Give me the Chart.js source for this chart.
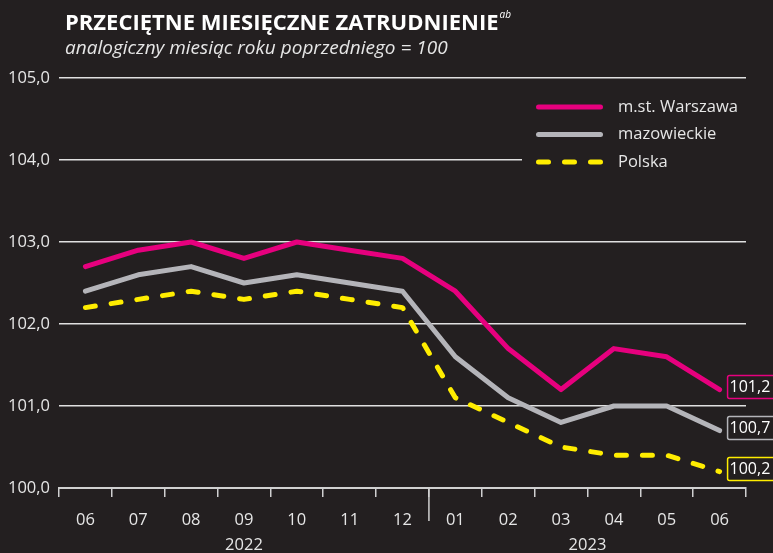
<!DOCTYPE html>
<html>
<head>
<meta charset="utf-8">
<script src="https://cdn.jsdelivr.net/npm/chart.js@4"></script>
<style>
  html, body { margin: 0; padding: 0; background: #231f20; }
  #wrap { position: relative; width: 773px; height: 553px; }
</style>
</head>
<body>
<div id="wrap"><canvas id="c" width="773" height="553"></canvas></div>
<script>
// Przeciętne miesięczne zatrudnienie, analogiczny miesiąc roku poprzedniego = 100
const months = ['06', '07', '08', '09', '10', '11', '12', '01', '02', '03', '04', '05', '06'];
const years = [{ label: '2022', from: 0, to: 6 }, { label: '2023', from: 7, to: 12 }];
const warszawa = [102.7, 102.9, 103.0, 102.8, 103.0, 102.9, 102.8, 102.4, 101.7, 101.2, 101.7, 101.6, 101.2];
const mazowieckie = [102.4, 102.6, 102.7, 102.5, 102.6, 102.5, 102.4, 101.6, 101.1, 100.8, 101.0, 101.0, 100.7];
const polska = [102.2, 102.3, 102.4, 102.3, 102.4, 102.3, 102.2, 101.1, 100.8, 100.5, 100.4, 100.4, 100.2];
const yTicks = [100, 101, 102, 103, 104, 105];

const BG = '#231f20';
const TXT = '#e6e6e6';
const FONT = '"Open Sans", "Noto Sans", sans-serif';
const C = { waw: '#e6007e', maz: '#b4b4b9', pl: '#ffed00' };

const fmt = (v) => v.toFixed(1).replace('.', ',');

const bgPlugin = {
    id: 'bg',
    beforeDraw(chart) {
        const ctx = chart.ctx;
        ctx.save();
        ctx.fillStyle = BG;
        ctx.fillRect(0, 0, chart.width, chart.height);
        ctx.restore();
    },
};

const decorPlugin = {
    id: 'decor',
    afterDraw(chart) {
        const ctx = chart.ctx;
        const x = chart.scales.x;
        const area = chart.chartArea;
        ctx.save();

        // tytuł
        ctx.fillStyle = '#ffffff';
        ctx.textBaseline = 'alphabetic';
        ctx.textAlign = 'left';
        ctx.font = `bold 22px ${FONT}`;
        const title = 'PRZECIĘTNE MIESIĘCZNE ZATRUDNIENIE';
        ctx.fillText(title, 65, 30);
        const tw = ctx.measureText(title).width;
        ctx.font = `italic 10px ${FONT}`;
        ctx.fillText('ab', 65 + tw + 1, 18);
        ctx.font = `italic 19px ${FONT}`;
        ctx.fillStyle = TXT;
        ctx.fillText('analogiczny miesiąc roku poprzedniego = 100', 65, 54);

        // separator lat + etykiety lat
        const step = (x.right - x.left) / months.length;
        const sepX = x.left + step * 7;
        ctx.strokeStyle = '#d0d0d0';
        ctx.lineWidth = 1.5;
        ctx.beginPath();
        ctx.moveTo(sepX, area.bottom);
        ctx.lineTo(sepX, area.bottom + 33);
        ctx.stroke();
        ctx.fillStyle = TXT;
        ctx.font = `16.5px ${FONT}`;
        ctx.textAlign = 'center';
        ctx.textBaseline = 'middle';
        years.forEach((y) => {
            const cx = (x.left + step * y.from + x.left + step * (y.to + 1)) / 2;
            ctx.fillText(y.label, cx, 545);
        });

        // legenda (zasłania linię siatki)
        ctx.fillStyle = BG;
        ctx.fillRect(522, 84, area.right - 522 + 2, 96);
        const items = [
            { label: 'm.st. Warszawa', color: C.waw, dash: [] },
            { label: 'mazowieckie', color: C.maz, dash: [] },
            { label: 'Polska', color: C.pl, dash: [10, 16] },
        ];
        items.forEach((it, i) => {
            const ly = 107 + i * 27.5;
            ctx.strokeStyle = it.color;
            ctx.lineWidth = 5;
            ctx.lineCap = 'round';
            ctx.setLineDash(it.dash);
            ctx.beginPath();
            ctx.moveTo(538.5, ly);
            ctx.lineTo(600.5, ly);
            ctx.stroke();
            ctx.setLineDash([]);
            ctx.fillStyle = TXT;
            ctx.textAlign = 'left';
            ctx.font = `16.5px ${FONT}`;
            ctx.fillText(it.label, 618, ly);
        });

        // etykiety końcowe
        chart.data.datasets.forEach((ds, i) => {
            const meta = chart.getDatasetMeta(i);
            const pt = meta.data[meta.data.length - 1];
            const v = ds.data[ds.data.length - 1];
            const bx = pt.x + 8, by = pt.y - 14;
            ctx.strokeStyle = ds.borderColor;
            ctx.lineWidth = 1.5;
            ctx.fillStyle = BG;
            ctx.beginPath();
            ctx.roundRect(bx, by, 60, 23, 2);
            ctx.fill();
            ctx.stroke();
            ctx.fillStyle = '#ffffff';
            ctx.textAlign = 'left';
            ctx.textBaseline = 'middle';
            ctx.font = `16px ${FONT}`;
            ctx.fillText(fmt(v), bx + 2, by + 12);
        });
        ctx.restore();
    },
};

const line = (label, data, color, dash) => ({
    label, data,
    borderColor: color,
    backgroundColor: color,
    borderWidth: 5,
    borderDash: dash,
    borderCapStyle: 'round',
    borderJoinStyle: 'round',
    pointRadius: 0,
    tension: 0,
    fill: false,
});

new Chart(document.getElementById('c'), {
    type: 'line',
    data: {
        labels: months,
        datasets: [
            line('m.st. Warszawa', warszawa, C.waw, []),
            line('mazowieckie', mazowieckie, C.maz, []),
            line('Polska', polska, C.pl, [10, 16]),
        ],
    },
    options: {
        responsive: false,
        animation: false,
        layout: { padding: { top: 78, right: 27, left: 0, bottom: 0 } },
        plugins: { legend: { display: false }, tooltip: { enabled: false } },
        scales: {
            x: {
                offset: true,
                afterFit: (s) => { s.height = 65; },
                grid: { offset: true, drawOnChartArea: false, color: '#d0d0d0', lineWidth: 1.5, tickLength: 9 },
                border: { display: true, color: '#d0d0d0', width: 2 },
                ticks: { color: TXT, font: { family: FONT, size: 16.5 }, padding: 13, maxRotation: 0, autoSkip: false },
            },
            y: {
                min: 100, max: 105,
                afterFit: (s) => { s.width = 59; },
                afterBuildTicks: (s) => { s.ticks = yTicks.map((v) => ({ value: v })); },
                grid: { color: (c) => (c.tick && c.tick.value === 100 ? 'rgba(0,0,0,0)' : '#e0e0e0'), lineWidth: 1.5, drawTicks: false },
                border: { display: false },
                ticks: { color: TXT, font: { family: FONT, size: 16.5 }, padding: 9, callback: (v) => fmt(v) },
            },
        },
    },
    plugins: [bgPlugin, decorPlugin],
});
</script>
</body>
</html>
